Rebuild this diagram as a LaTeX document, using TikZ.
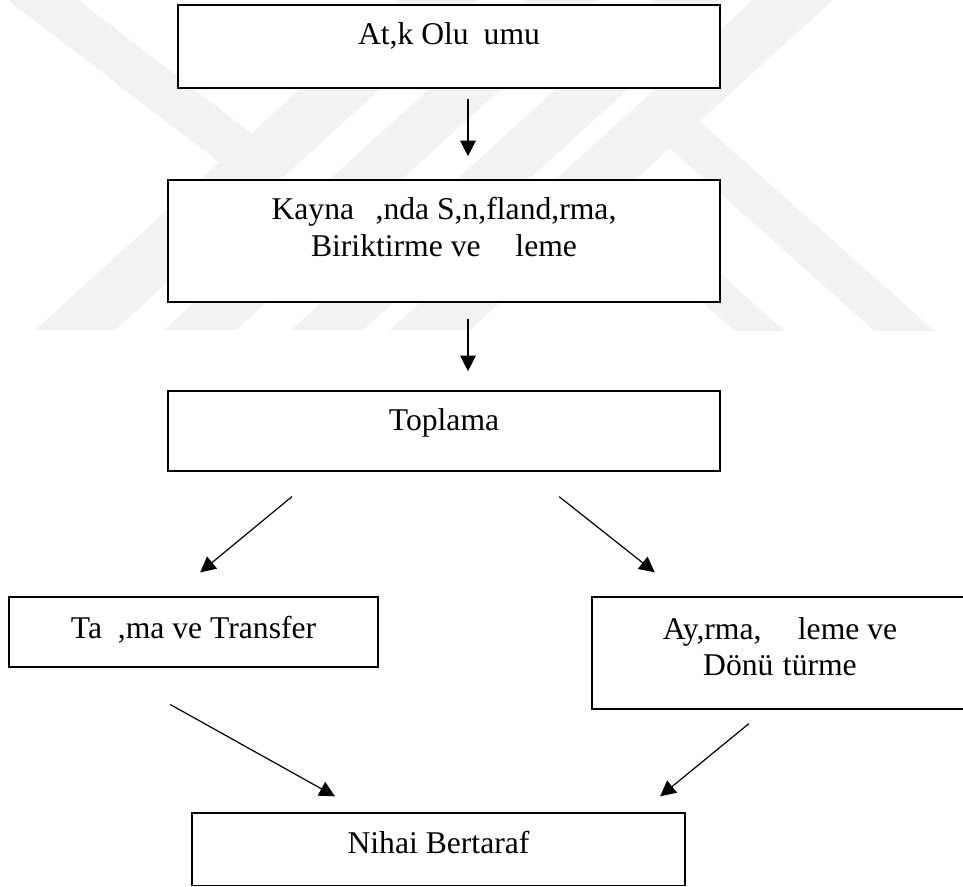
\documentclass[tikz,border=0pt]{standalone}
\usepackage{fontspec}
\setmainfont{Liberation Serif}
\usetikzlibrary{arrows.meta}
\newlength\px
\setlength\px{0.025cm}
\begin{document}
\begin{tikzpicture}[x=\px,y=-\px,
    box/.style={draw,fill=white,line width=1.6\px,inner sep=0pt,anchor=base,
      font=\fontsize{22.5pt}{26.3pt}\selectfont},
    arr/.style={-{Triangle[length=11pt,width=11pt]},line width=1.2\px},
    wmark/.style={fill=black!5}]
  \useasboundingbox (0,0) rectangle (963,887);
  % watermark
  \begin{scope}
    \clip (0,0) rectangle (963,330);
    \foreach \xc/\w in {75/80,200/72,327/72,430/80}
      \fill[wmark] (\xc-\w/2,330) -- ++(\w,0) -- ++(374,-340) -- ++(-\w,0) -- cycle;
    \fill[wmark] (8,0) -- (78,0) -- (273,150) -- (229,170) -- cycle;
    \fill[wmark] (638,120) -- (698,120) -- (939,335) -- (879,335) -- cycle;
    \fill[wmark] (577,190) -- (627,190) -- (789,335) -- (739,335) -- cycle;
  \end{scope}
  \node[box,minimum width=542\px,text height=40\px,text depth=43\px] (atik) at (449,45)
    {At,k Olu\hspace{0.47em}umu};
  \node[box,minimum width=552\px,text height=40\px,text depth=82\px] (kaynak) at (444,220)
    {\begin{tabular}[t]{@{}c@{}}Kayna\hspace{0.68em},nda S,n,fland,rma,\\
      Biriktirme ve\hspace{1.1em}leme\end{tabular}};
  \node[box,minimum width=552\px,text height=39\px,text depth=41\px] (toplama) at (444,430)
    {Toplama};
  \node[box,minimum width=369\px,text height=41\px,text depth=29\px] (tasima) at (193.5,638)
    {Ta\hspace{0.5em},ma ve Transfer};
  \node[box,minimum width=376\px,text height=42\px,text depth=70\px] (ayirma) at (780,639)
    {\begin{tabular}[t]{@{}c@{}}Ay,rma,\hspace{1.15em}leme ve\\
      Dönü\hspace{0.3em}türme\end{tabular}};
  \node[box,minimum width=493\px,text height=40\px,text depth=32.5\px] (nihai) at (438.5,853)
    {Nihai Bertaraf};
  \draw[arr,shorten <=10\px,shorten >=23\px] ([xshift=19\px]atik.south) -- ([xshift=24\px]kaynak.north);
  \draw[arr,shorten <=16\px,shorten >=19\px] ([xshift=24\px]kaynak.south) -- ([xshift=24\px]toplama.north);
  \draw[arr,shorten <=39\px,shorten >=37.4\px] ([xshift=-122\px]toplama.south) -- ([xshift=-22.2\px]tasima.north);
  \draw[arr,shorten <=40\px,shorten >=38.4\px] ([xshift=83.8\px]toplama.south) -- ([xshift=-95.1\px]ayirma.north);
  \draw[arr,shorten <=75.3\px,shorten >=32.6\px] ([xshift=-89.1\px]tasima.south) -- ([xshift=-75.1\px]nihai.north);
  \draw[arr,shorten <=21.9\px,shorten >=25\px] ([xshift=-14.2\px]ayirma.south) -- ([xshift=202.3\px]nihai.north);
\end{tikzpicture}
\end{document}
